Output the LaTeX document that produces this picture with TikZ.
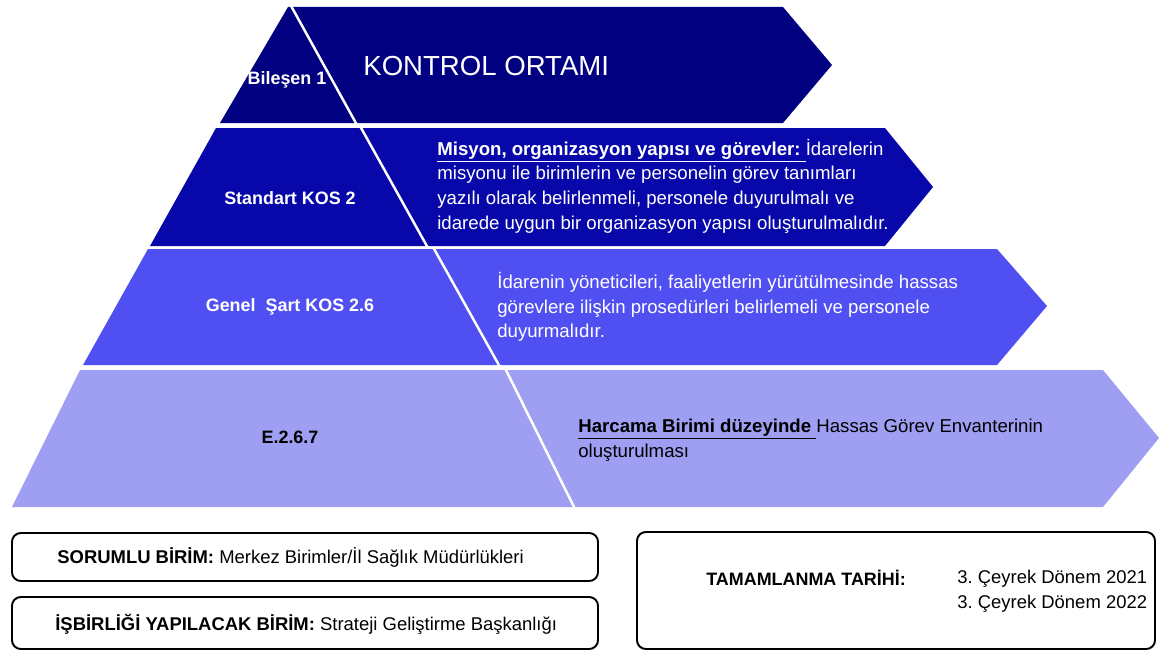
\documentclass[tikz,border=0pt]{standalone}
\usepackage{fontspec}
\setmainfont{Liberation Sans}
\usetikzlibrary{positioning}
\frenchspacing

\definecolor{kat1}{RGB}{0,0,128}
\definecolor{kat2}{RGB}{8,8,170}
\definecolor{kat3}{RGB}{80,80,242}
\definecolor{kat4}{RGB}{158,158,242}

\begin{document}
\begin{tikzpicture}[
    x = 0.02cm, y = -0.02cm,
    font = \fontsize{10.5}{14}\selectfont
  ]

  \useasboundingbox (0,0) rectangle (1159,652);

  \tikzstyle {every node} = [inner sep = 0]
  \tikzstyle {baslik} = [font = \fontsize{10.2}{12}\selectfont\bfseries, color = white]
  \tikzstyle {metin} = [font = \fontsize{10.6}{14}\selectfont, align = left, anchor = west, color = white]
  \tikzstyle {ayrac} = [draw = white, line width = 1.4pt]
  \tikzstyle {kutu} = [draw = black, line width = 1.1pt, rounded corners = 5pt]

  % piramit katlari
  \fill [kat1] (288,7) -- (783,7) -- (832,65) -- (783,123) -- (220,123) -- cycle;
  \fill [kat2] (216,128) -- (885,128) -- (933,187) -- (885,246) -- (150,246) -- cycle;
  \fill [kat3] (148,249) -- (997,249) -- (1047,306) -- (997,365) -- (83,365) -- cycle;
  \fill [kat4] (80,370) -- (1103,370) -- (1159,438) -- (1103,507) -- (12,507) -- cycle;

  \draw [ayrac] (290,4) -- (357,125);
  \draw [ayrac] (360,126) -- (428,248);
  \draw [ayrac] (433,247) -- (500,367);
  \draw [ayrac] (505,368) -- (575,509);

  \node [baslik] (0) at (287,80) {Bileşen 1};
  \node [font = \fontsize{15.7}{18}\selectfont, color = white, anchor = west] (1) at (363,66) {KONTROL ORTAMI};
  \node [baslik] (2) at (290,198) {Standart KOS 2};
  \node [metin] (3) at (437,186) {\underline{\textbf{Misyon, organizasyon yapısı ve görevler:}\ }İdarelerin\\
    misyonu ile birimlerin ve personelin görev tanımları\\
    yazılı olarak belirlenmeli, personele duyurulmalı ve\\
    idarede uygun bir organizasyon yapısı oluşturulmalıdır.};
  \node [baslik] (4) at (290,307) {Genel\ \ Şart KOS 2.6};
  \node [metin] (5) at (497,307) {İdarenin yöneticileri, faaliyetlerin yürütülmesinde hassas\\
    görevlere ilişkin prosedürleri belirlemeli ve personele\\
    duyurmalıdır.};
  \node [baslik, color = black] (6) at (290,437) {E.2.6.7};
  \node [metin, color = black] (7) at (578,440) {\underline{\textbf{Harcama Birimi düzeyinde}\ }Hassas Görev Envanterinin\\
    oluşturulması};

  % alt kutular
  \draw [kutu] (12,533) rectangle (598,581);
  \draw [kutu] (12,597) rectangle (598,649);
  \draw [kutu] (637,532) rectangle (1155,649);

  \node [anchor = west] (8) at (57,557) {\textbf{SORUMLU BİRİM:} Merkez Birimler/İl Sağlık Müdürlükleri};
  \node [anchor = west] (9) at (55,624) {\textbf{İŞBİRLİĞİ YAPILACAK BİRİM:} Strateji Geliştirme Başkanlığı};
  \node [anchor = west, font = \fontsize{10.2}{14}\selectfont\bfseries] (10) at (706,578) {TAMAMLANMA TARİHİ:};
  \node [anchor = west, align = left] (11) at (957,591) {3. Çeyrek Dönem 2021\\3. Çeyrek Dönem 2022};
\end{tikzpicture}
\end{document}
